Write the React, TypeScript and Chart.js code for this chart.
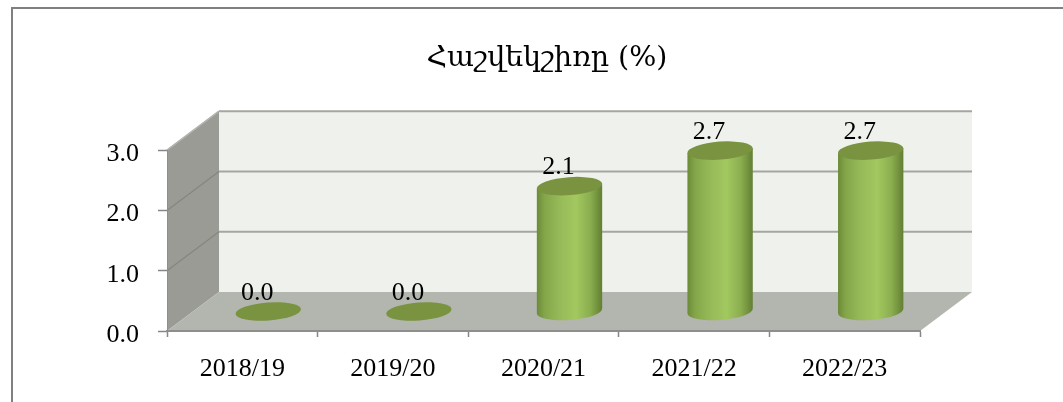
import React, { useEffect, useRef } from "react";
import { Chart, registerables } from "chart.js";

Chart.register(...registerables);

const categories = ["2018/19", "2019/20", "2020/21", "2021/22", "2022/23"];
const seriesValues = [0.0, 0.0, 2.08, 2.67, 2.67];
const yTickValues = [0, 1, 2, 3];
const chartTitle = "Հաշվեկշիռը (%)";

const SERIF = '"Liberation Serif", serif';
const DEPTH_X = 52;
const DEPTH_Y = -39;
const TILT = (4.2 * Math.PI) / 180;
const ELLIPSE_RY = 9;

const polygon = (ctx: CanvasRenderingContext2D, pts: number[][], fill: string | CanvasGradient) => {
  ctx.beginPath();
  pts.forEach(([x, y], i) => (i ? ctx.lineTo(x, y) : ctx.moveTo(x, y)));
  ctx.closePath();
  ctx.fillStyle = fill;
  ctx.fill();
};

const line = (ctx: CanvasRenderingContext2D, a: number[], b: number[], color: string, width: number) => {
  ctx.beginPath();
  ctx.moveTo(a[0], a[1]);
  ctx.lineTo(b[0], b[1]);
  ctx.strokeStyle = color;
  ctx.lineWidth = width;
  ctx.stroke();
};

const scenePlugin = {
  id: "scene3d",
  beforeDraw(chart: any) {
    const { ctx, chartArea: a, scales } = chart;
    const { left: l, right: r, top: t, bottom: b } = a;
    const dx = DEPTH_X;
    const dy = DEPTH_Y;
    ctx.save();
    // outer frame
    line(ctx, [11, 8], [chart.width, 8], "#808080", 2);
    line(ctx, [12, 8], [12, chart.height], "#808080", 2);
    // back wall
    polygon(ctx, [[l + dx, t + dy], [r + dx, t + dy], [r + dx, b + dy], [l + dx, b + dy]], "#EFF2EC");
    // side wall
    polygon(ctx, [[l, t], [l + dx, t + dy], [l + dx, b + dy], [l, b]], "#999B94");
    // floor
    polygon(ctx, [[l, b], [l + dx, b + dy], [r + dx, b + dy], [r, b]], "#B3B6AF");
    // grid
    yTickValues.forEach((v) => {
      const y = scales.y.getPixelForValue(v);
      if (v > 0) {
        line(ctx, [l, y], [l + dx, y + dy], "#85877F", 1.2);
        line(ctx, [l + dx, y + dy], [r + dx, y + dy], "#A4A6A1", 2);
      }
    });
    line(ctx, [l, t], [l + dx, t + dy], "#B4B6B1", 1.5);
    ctx.restore();
  },
  afterDatasetsDraw(chart: any) {
    const { ctx } = chart;
    const meta = chart.getDatasetMeta(0);
    ctx.save();
    ctx.filter = "blur(0.7px)";
    meta.data.forEach((el: any, i: number) => {
      const cx = el.x + DEPTH_X / 2;
      const topY = el.y + DEPTH_Y / 2;
      const baseY = el.base + DEPTH_Y / 2;
      const rx = el.width / 2;
      const c = Math.cos(TILT);
      const s = Math.sin(TILT);
      if (seriesValues[i] > 0) {
        const g = ctx.createLinearGradient(cx - rx, 0, cx + rx, 0);
        g.addColorStop(0, "#6C8A38");
        g.addColorStop(0.12, "#84A64A");
        g.addColorStop(0.35, "#96BA58");
        g.addColorStop(0.6, "#A2C860");
        g.addColorStop(0.82, "#8AAD4E");
        g.addColorStop(1, "#627F32");
        ctx.beginPath();
        ctx.moveTo(cx - rx * c, topY + rx * s);
        ctx.lineTo(cx - rx * c, baseY + rx * s);
        ctx.ellipse(cx, baseY, rx, ELLIPSE_RY, -TILT, Math.PI, 0, true);
        ctx.lineTo(cx + rx * c, topY - rx * s);
        ctx.closePath();
        ctx.fillStyle = g;
        ctx.fill();
      }
      ctx.beginPath();
      ctx.ellipse(cx, topY, rx, ELLIPSE_RY, -TILT, 0, Math.PI * 2);
      ctx.fillStyle = "#799340";
      ctx.fill();
    });
    ctx.filter = "none";
    // value labels sit on the back plane of the bar
    ctx.fillStyle = "#000";
    ctx.font = `26px ${SERIF}`;
    ctx.textAlign = "center";
    ctx.textBaseline = "middle";
    meta.data.forEach((el: any, i: number) => {
      ctx.fillText(seriesValues[i].toFixed(1), el.x + 15, el.y + DEPTH_Y + 1);
    });
    ctx.restore();
  },
};

export default function App() {
  const ref = useRef<HTMLCanvasElement | null>(null);
  useEffect(() => {
    document.body.style.margin = "0";
    const chart = new Chart(ref.current as HTMLCanvasElement, {
      type: "bar",
      data: {
        labels: categories,
        datasets: [
          {
            data: seriesValues,
            backgroundColor: "rgba(0,0,0,0)",
            borderWidth: 0,
            categoryPercentage: 1,
            barPercentage: 0.435,
          },
        ],
      },
      options: {
        responsive: false,
        animation: false,
        layout: { padding: { left: 31, right: 0, top: 0, bottom: 0 } },
        plugins: {
          legend: { display: false },
          tooltip: { enabled: false },
          title: {
            display: true,
            text: chartTitle,
            color: "#000",
            font: { family: '"DejaVu Serif", serif', size: 28.5, weight: "normal", lineHeight: 1.2 },
            padding: { top: 41, bottom: 75 },
          },
        },
        scales: {
          x: {
            grid: { drawOnChartArea: false, drawTicks: true, tickLength: 6, tickColor: "#868686", tickWidth: 1.5 },
            border: { color: "#8E8E8E", width: 2 },
            ticks: { color: "#000", font: { family: SERIF, size: 26 }, padding: 17, maxRotation: 0, autoSkip: false },
            afterFit: (s: any) => {
              s.height = 71;
            },
          },
          y: {
            min: 0,
            max: 3,
            grid: { drawOnChartArea: false, drawTicks: true, tickLength: 9, tickColor: "#868686", tickWidth: 1.5 },
            border: { color: "#8E8E8E", width: 1 },
            ticks: {
              color: "#000",
              font: { family: SERIF, size: 26 },
              padding: 19,
              labelOffset: 4,
              stepSize: 1,
              callback: (v: any) => Number(v).toFixed(1),
            },
            afterFit: (s: any) => {
              s.width = 136;
            },
          },
          y2: {
            position: "right",
            min: 0,
            max: 3,
            grid: { display: false, drawOnChartArea: false },
            border: { display: false },
            ticks: { display: false },
            afterFit: (s: any) => {
              s.width = 143;
            },
          },
        },
      },
      plugins: [scenePlugin],
    } as any);
    return () => chart.destroy();
  }, []);
  return <canvas ref={ref} width={1063} height={402} style={{ display: "block" }} />;
}
